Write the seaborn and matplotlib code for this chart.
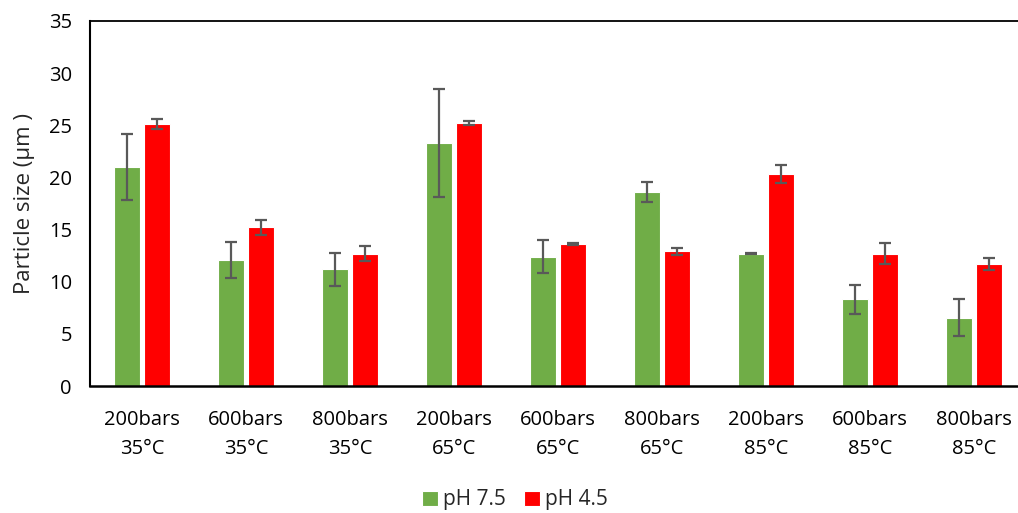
import matplotlib
matplotlib.use("Agg")
import matplotlib.pyplot as plt
import seaborn as sns
import pandas as pd
import numpy as np

categories = ["200bars\n35°C", "600bars\n35°C", "800bars\n35°C",
              "200bars\n65°C", "600bars\n65°C", "800bars\n65°C",
              "200bars\n85°C", "600bars\n85°C", "800bars\n85°C"]
series_names = ["pH 7.5", "pH 4.5"]
ph75_values = [21.0, 12.1, 11.2, 23.3, 12.4, 18.6, 12.7, 8.3, 6.55]
ph75_errors = [3.2, 1.7, 1.6, 5.2, 1.6, 1.0, 0.08, 1.4, 1.8]
ph45_values = [25.15, 15.2, 12.7, 25.2, 13.6, 12.9, 20.3, 12.7, 11.7]
ph45_errors = [0.5, 0.7, 0.7, 0.2, 0.12, 0.3, 0.85, 1.0, 0.6]
yticks = [0, 5, 10, 15, 20, 25, 30, 35]

colors = {"pH 7.5": "#70AD47", "pH 4.5": "#FF0000"}

df = pd.DataFrame({
    "cat": categories * 2,
    "series": [series_names[0]] * len(categories) + [series_names[1]] * len(categories),
    "value": ph75_values + ph45_values,
    "err": ph75_errors + ph45_errors,
})

sns.set_style("white")
plt.rcParams["font.family"] = ["Open Sans", "DejaVu Sans"]

fig = plt.figure(figsize=(10.18, 5.13), dpi=100)
ax = fig.add_axes([90/1018, 127/513, 936/1018, 365/513])

sns.barplot(data=df, x="cat", y="value", hue="series", order=categories,
            hue_order=series_names, palette=colors, saturation=1,
            width=0.58, gap=0.15, edgecolor="white", linewidth=0.8,
            errorbar=None, ax=ax, legend=True)

# error bars at bar centres
for container, errs in zip(ax.containers, [ph75_errors, ph45_errors]):
    xs = [p.get_x() + p.get_width() / 2 for p in container.patches]
    hs = [p.get_height() for p in container.patches]
    ax.errorbar(xs, hs, yerr=errs, fmt="none", ecolor="#595959",
                elinewidth=1.6, capsize=4.3, capthick=1.6, zorder=5)

ax.set_xlim(-0.5, len(categories) - 0.5)
ax.set_ylim(0, 35)
ax.set_yticks(yticks)
ax.set_yticklabels([str(t) for t in yticks])
ax.tick_params(axis="both", length=0, labelsize=14.5, colors="black")
ax.tick_params(axis="y", pad=13)
ax.tick_params(axis="x", pad=17)
for lbl in ax.get_xticklabels():
    lbl.set_linespacing(1.65)
ax.set_xlabel("")
ax.set_ylabel("Particle size (µm )", fontsize=16, labelpad=10)

for side in ["left", "bottom", "top", "right"]:
    ax.spines[side].set_visible(True)
    ax.spines[side].set_color("black")
ax.spines["left"].set_linewidth(1.5)
ax.spines["bottom"].set_linewidth(1.8)
ax.spines["top"].set_linewidth(1.3)
ax.spines["right"].set_linewidth(1.3)

handles, labels = ax.get_legend_handles_labels()
ax.get_legend().remove()
fig.legend(handles, labels, loc="center", bbox_to_anchor=(0.5 + 6/1018, 13/513),
           ncol=2, frameon=False, fontsize=15, handlelength=0.75,
           handleheight=0.75, handletextpad=0.25, columnspacing=0.9,
           borderpad=0)

fig.savefig("out.png", dpi=100)
